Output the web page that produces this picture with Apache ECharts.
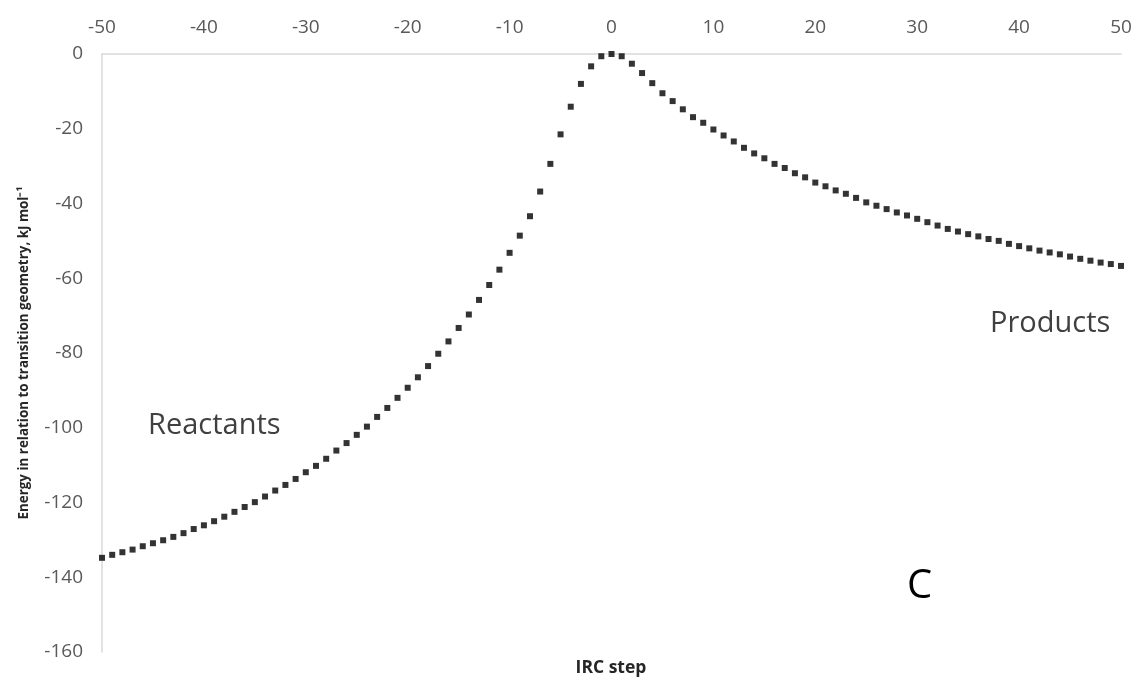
<!DOCTYPE html>
<html>
<head>
<meta charset="utf-8">
<script src="https://cdn.jsdelivr.net/npm/echarts@6/dist/echarts.min.js"></script>
<style>
html,body{margin:0;padding:0;background:#fff;}
#chart{width:1135px;height:682px;}
</style>
</head>
<body>
<div id="chart"></div>
<script>
const steps = [-50,-49,-48,-47,-46,-45,-44,-43,-42,-41,-40,-39,-38,-37,-36,-35,-34,-33,-32,-31,-30,-29,-28,-27,-26,-25,-24,-23,-22,-21,-20,-19,-18,-17,-16,-15,-14,-13,-12,-11,-10,-9,-8,-7,-6,-5,-4,-3,-2,-1,0,1,2,3,4,5,6,7,8,9,10,11,12,13,14,15,16,17,18,19,20,21,22,23,24,25,26,27,28,29,30,31,32,33,34,35,36,37,38,39,40,41,42,43,44,45,46,47,48,49,50];
const energies = [
  -134.8,-134.0,-133.3,-132.6,-131.7,-130.9,-130.1,-129.2,-128.2,-127.1,
  -126.1,-125.0,-123.8,-122.5,-121.2,-119.9,-118.4,-116.8,-115.3,-113.7,
  -111.9,-110.2,-108.3,-106.1,-104.1,-101.9,-99.7,-97.1,-94.7,-92.0,
  -89.3,-86.5,-83.5,-80.2,-76.9,-73.3,-69.7,-65.8,-61.8,-57.7,
  -53.2,-48.6,-43.4,-36.8,-29.4,-21.5,-14.1,-8.0,-3.3,-0.6,
  0,
  -0.6,-2.6,-5.1,-7.8,-10.5,-12.6,-14.8,-16.9,-18.4,-20.2,
  -21.8,-23.4,-25.1,-26.6,-27.9,-29.4,-30.5,-31.9,-33.0,-34.4,
  -35.4,-36.5,-37.4,-38.5,-39.7,-40.6,-41.5,-42.4,-43.2,-44.1,
  -45.0,-45.9,-46.8,-47.5,-48.2,-48.8,-49.5,-50.0,-50.8,-51.4,
  -52.0,-52.6,-53.1,-53.6,-54.2,-54.8,-55.3,-55.8,-56.2,-56.7
];
const xTicks = [-50,-40,-30,-20,-10,0,10,20,30,40,50];
const yTicks = [0,-20,-40,-60,-80,-100,-120,-140,-160];
const yTitle = 'Energy in relation to transition geometry, kJ mol\u207B\u00B9';
const xTitle = 'IRC step';
const annotations = ['Reactants','Products','C'];

const font = '"Open Sans", "Liberation Sans", sans-serif';
const chart = echarts.init(document.getElementById('chart'), null, {renderer:'canvas'});
chart.setOption({
  animation: false,
  backgroundColor: '#ffffff',
  grid: {left: 102, right: 14, top: 54, bottom: 30, containLabel: false},
  xAxis: {
    type: 'value', position: 'top',
    min: xTicks[0], max: xTicks[xTicks.length-1], interval: 10,
    axisLine: {show: true, onZero: false, lineStyle: {color: '#d9d9d9', width: 1.5}},
    axisTick: {show: false},
    splitLine: {show: false},
    axisLabel: {color: '#595959', fontSize: 19, fontFamily: font, margin: 17}
  },
  yAxis: {
    type: 'value',
    min: yTicks[yTicks.length-1], max: yTicks[0], interval: 20,
    axisLine: {show: true, onZero: false, lineStyle: {color: '#d9d9d9', width: 1.5}},
    axisTick: {show: false},
    splitLine: {show: false},
    axisLabel: {color: '#595959', fontSize: 19, fontFamily: font, margin: 19},
    name: yTitle, nameLocation: 'middle', nameRotate: 90, nameGap: 71,
    nameTextStyle: {color: '#262626', fontSize: 13.4, fontWeight: 'bold', fontFamily: font}
  },
  graphic: [
    {type: 'text', x: 611, y: 668, style: {text: xTitle, fill: '#262626', font: 'bold 17.5px ' + font, textAlign: 'center', textVerticalAlign: 'middle'}},
    {type: 'text', x: 148, y: 426, style: {text: annotations[0], fill: '#404040', font: '29px ' + font, textAlign: 'left', textVerticalAlign: 'middle'}},
    {type: 'text', x: 990, y: 324, style: {text: annotations[1], fill: '#404040', font: '29px ' + font, textAlign: 'left', textVerticalAlign: 'middle'}},
    {type: 'text', x: 907, y: 587, style: {text: annotations[2], fill: '#000000', font: '40px ' + font, textAlign: 'left', textVerticalAlign: 'middle'}}
  ],
  series: [{
    type: 'scatter',
    data: steps.map((s, i) => [s, energies[i]]),
    symbol: 'rect', symbolSize: 6,
    itemStyle: {color: '#000000'},
    clip: false
  }]
});
</script>
</body>
</html>
